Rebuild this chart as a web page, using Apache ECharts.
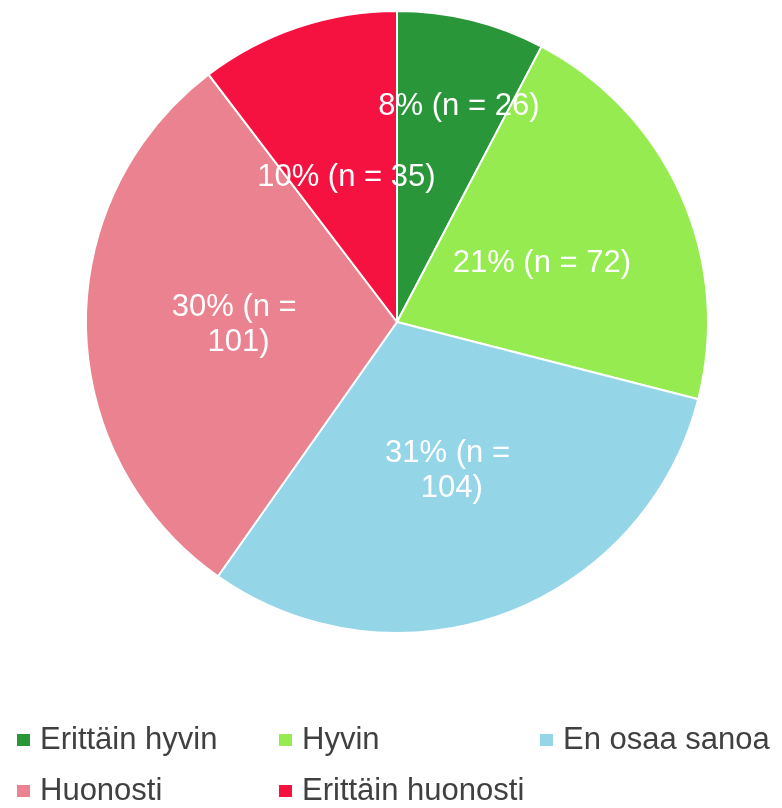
<!DOCTYPE html>
<html>
<head>
<meta charset="utf-8">
<script src="https://cdn.jsdelivr.net/npm/echarts@6/dist/echarts.min.js"></script>
<style>
  html, body { margin: 0; padding: 0; background: #fff; }
  #chart { width: 782px; height: 808px; }
</style>
</head>
<body>
<div id="chart"></div>
<script>
const categories = ['Erittäin hyvin', 'Hyvin', 'En osaa sanoa', 'Huonosti', 'Erittäin huonosti']
const counts = [26, 72, 104, 101, 35]
const percents = [8, 21, 31, 30, 10]
const colors = ['#2a963a', '#96eb50', '#94d5e8', '#ea8290', '#f61240']

// legend columns, like the original layout
const legendSlots = [
    { left: 15, top: 723 },
    { left: 277, top: 723 },
    { left: 538, top: 723 },
    { left: 15, top: 774 },
    { left: 277, top: 774 }
]

const chart = echarts.init(document.getElementById('chart'))

chart.setOption({
    animation: false,
    color: colors,
    legend: categories.map((name, i) => ({
        data: [name],
        left: legendSlots[i].left,
        top: legendSlots[i].top,
        padding: 0,
        icon: 'rect',
        itemWidth: 15,
        itemHeight: 14,
        selectedMode: false,
        textStyle: {
            fontFamily: 'Liberation Sans',
            fontSize: 31,
            color: '#404040',
            lineHeight: 34,
            padding: [0, 0, 0, 4]
        }
    })),
    series: [
        {
            type: 'pie',
            center: [397, 322],
            radius: 311,
            startAngle: 90,
            clockwise: true,
            data: categories.map((name, i) => ({ name: name, value: counts[i] })),
            itemStyle: {
                borderColor: '#ffffff',
                borderWidth: 2
            },
            label: {
                show: true,
                position: 'inside',
                formatter: p => percents[p.dataIndex] + '% (n = ' + counts[p.dataIndex] + ')',
                fontFamily: 'Liberation Sans',
                fontSize: 31,
                lineHeight: 35,
                color: '#ffffff',
                width: 185,
                overflow: 'break',
                align: 'center'
            },
            labelLine: { show: false },
            // the small slice has its label pushed outwards
            labelLayout: function (params) {
                if (params.dataIndex === 0) {
                    return { dx: 24, dy: -62 }
                }
                if (params.dataIndex === 1 || params.dataIndex === 4) {
                    return { dy: 6 }
                }
                return {}
            },
            emphasis: { disabled: true }
        }
    ]
})
</script>
</body>
</html>
